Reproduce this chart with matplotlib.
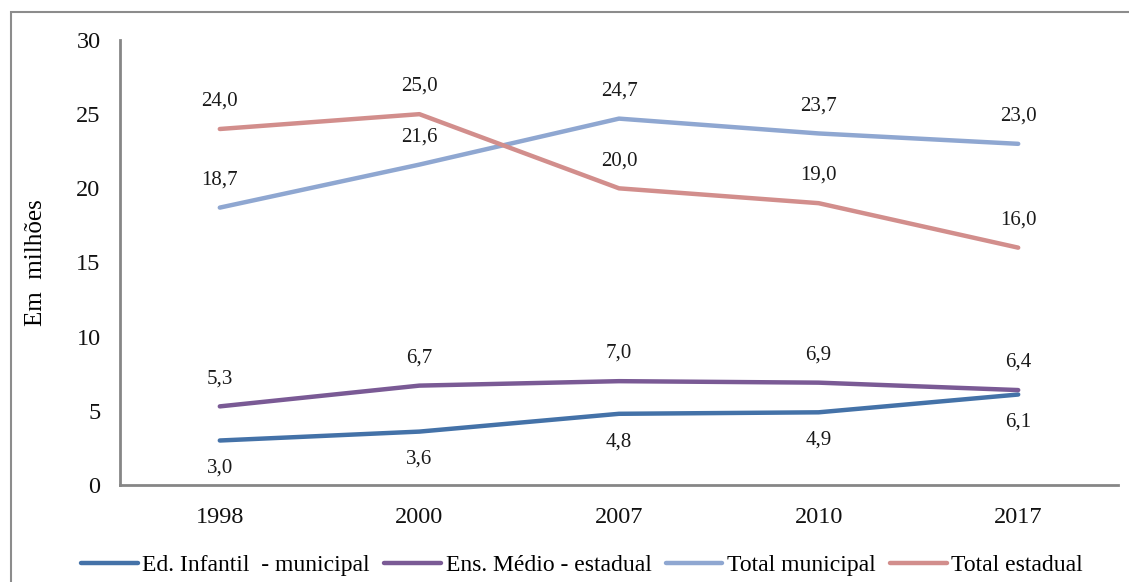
import matplotlib
matplotlib.use("Agg")
import matplotlib.pyplot as plt
from matplotlib.patches import Rectangle

years = ["1998", "2000", "2007", "2010", "2017"]
ed_infantil_municipal = [3.0, 3.6, 4.8, 4.9, 6.1]
ens_medio_estadual = [5.3, 6.7, 7.0, 6.9, 6.4]
total_municipal = [18.7, 21.6, 24.7, 23.7, 23.0]
total_estadual = [24.0, 25.0, 20.0, 19.0, 16.0]
series_names = ["Ed. Infantil  - municipal", "Ens. Médio - estadual",
                "Total municipal", "Total estadual"]

plt.rcParams["font.family"] = ["Liberation Serif", "DejaVu Serif"]

fig = plt.figure(figsize=(11.29, 5.82), dpi=100)
ax = fig.add_axes([120 / 1129, 1 - 485 / 582, 998 / 1129, 445 / 582])

# outer frame around the chart area
fig.add_artist(Rectangle((11 / 1129, -0.05), 1.2, 1 - 12 / 582 + 0.05,
                         transform=fig.transFigure, fill=False,
                         edgecolor="#8c8c8c", linewidth=1.5))

x = list(range(len(years)))
series = [
    (ed_infantil_municipal, "#4472A8", "below"),
    (ens_medio_estadual, "#7A5A95", "above"),
    (total_municipal, "#8FA7D1", "above"),
    (total_estadual, "#D28E8C", "above"),
]

for (vals, color, pos), name in zip(series, series_names):
    ax.plot(x, vals, color=color, linewidth=3.2, solid_capstyle="round",
            label=name)
    for xi, v in zip(x, vals):
        dy = 20 if pos == "above" else -20
        ax.annotate(f"{v:.1f}".replace(".", ","), (xi, v),
                    xytext=(0, dy), textcoords="offset points",
                    ha="center", va="center", fontsize=15, color="#1a1a1a")

ax.set_xlim(-0.5, 4.5)
ax.set_ylim(0, 30)
ax.set_yticks(range(0, 31, 5))
ax.set_xticks(x)
ax.set_xticklabels(years)
ax.tick_params(axis="both", length=0, labelsize=17.5, colors="#111111")
ax.tick_params(axis="x", pad=16)
ax.tick_params(axis="y", pad=14)
for side in ("top", "right"):
    ax.spines[side].set_visible(False)
for side in ("left", "bottom"):
    ax.spines[side].set_color("#868686")
    ax.spines[side].set_linewidth(2)

ax.set_ylabel("Em  milhões", fontsize=18, labelpad=21)

fig.legend(loc="center", bbox_to_anchor=(582 / 1129, 1 - 565 / 582),
           ncol=4, frameon=False, fontsize=17, handlelength=2.4,
           columnspacing=0.6, handletextpad=0.2, borderaxespad=0)

fig.savefig("out.png", dpi=100)
